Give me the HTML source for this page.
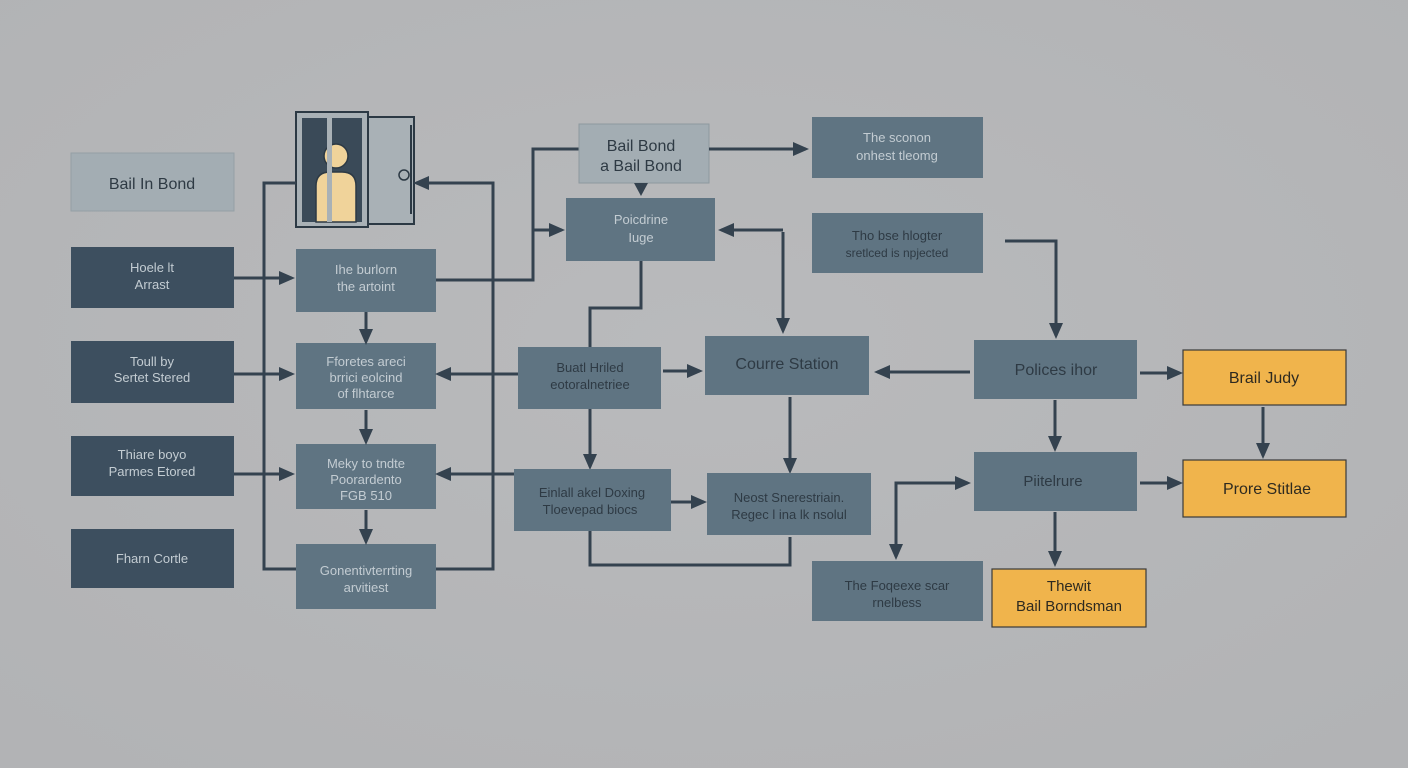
<!DOCTYPE html>
<html><head><meta charset="utf-8"><style>
html,body{margin:0;padding:0;background:#b5b6b8;}
svg{display:block}
text{font-family:"Liberation Sans",sans-serif;text-anchor:middle}
</style></head><body>
<svg width="1408" height="768" viewBox="0 0 1408 768" xmlns="http://www.w3.org/2000/svg">
<defs>
<radialGradient id="bg" cx="50%" cy="45%" r="70%"><stop offset="0" stop-color="#b9babc"/><stop offset="1" stop-color="#b2b3b5"/></radialGradient>
<marker id="a" markerWidth="8" markerHeight="8" refX="6" refY="4" orient="auto" markerUnits="userSpaceOnUse" viewBox="0 0 8 8"><path d="M0,0 L8,4 L0,8 z" fill="#34424f"/></marker>
</defs>
<style>.l{stroke:#34424f;stroke-width:3;fill:none}.d{fill:#3d4f5f}.m{fill:#5f7482}.t1{fill:#c3ccd2;font-size:13px}.t2{fill:#2e3a44;font-size:16px}</style>
<rect width="1408" height="768" fill="url(#bg)"/>
<!-- markers via bigger arrow heads -->
<defs><marker id="h" markerWidth="16" markerHeight="16" refX="13" refY="8" orient="auto" markerUnits="userSpaceOnUse"><path d="M0,1 L16,8 L0,15 z" fill="#34424f"/></marker></defs>

<!-- left column -->
<rect x="71" y="153" width="163" height="58" fill="#a3adb3" stroke="#95a0a6"/>
<text x="152" y="189" class="t2">Bail In Bond</text>
<rect class="d" x="71" y="247" width="163" height="61"/>
<text x="152" y="272" class="t1">Hoele lt</text><text x="152" y="289" class="t1">Arrast</text>
<rect class="d" x="71" y="341" width="163" height="62"/>
<text x="152" y="366" class="t1">Toull by</text><text x="152" y="382" class="t1">Sertet Stered</text>
<rect class="d" x="71" y="436" width="163" height="60"/>
<text x="152" y="459" class="t1">Thiare boyo</text><text x="152" y="476" class="t1">Parmes Etored</text>
<rect class="d" x="71" y="529" width="163" height="59"/>
<text x="152" y="563" class="t1">Fharn Cortle</text>

<!-- jail icon -->
<rect x="368" y="117" width="46" height="107" fill="#a9b1b6" stroke="#2c3944" stroke-width="2"/>
<line x1="411" y1="125" x2="411" y2="214" stroke="#2c3944" stroke-width="2"/>
<circle cx="404" cy="175" r="5" fill="none" stroke="#2c3944" stroke-width="1.5"/>
<rect x="296" y="112" width="72" height="115" fill="#a9b1b6" stroke="#2c3944" stroke-width="2"/>
<rect x="302" y="118" width="60" height="104" fill="#3a4a58"/>
<circle cx="336" cy="156" r="12" fill="#f0d39a" stroke="#2c3944" stroke-width="1.5"/>
<path d="M316,222 L316,186 Q316,172 330,172 L342,172 Q356,172 356,186 L356,222 z" fill="#f0d39a" stroke="#2c3944" stroke-width="1.5"/>
<rect x="327" y="118" width="5" height="104" fill="#a9b1b6"/>

<!-- mid column -->
<rect class="m" x="296" y="249" width="140" height="63"/>
<text x="366" y="274" class="t1">Ihe burlorn</text><text x="366" y="291" class="t1">the artoint</text>
<rect class="m" x="296" y="343" width="140" height="66"/>
<text x="366" y="366" class="t1">Fforetes areci</text><text x="366" y="382" class="t1">brrici eolcind</text><text x="366" y="398" class="t1">of flhtarce</text>
<rect class="m" x="296" y="444" width="140" height="65"/>
<text x="366" y="468" class="t1">Meky to tndte</text><text x="366" y="484" class="t1">Poorardento</text><text x="366" y="500" class="t1">FGB 510</text>
<rect class="m" x="296" y="544" width="140" height="65"/>
<text x="366" y="575" class="t1">Gonentivterrting</text><text x="366" y="592" class="t1">arvitiest</text>

<!-- left connectors -->
<path class="l" d="M296,183 H264 V569 H296"/>
<path class="l" d="M436,569 H493 V183 H416" marker-end="url(#h)"/>
<path class="l" d="M234,278 H292" marker-end="url(#h)"/>
<path class="l" d="M234,374 H292" marker-end="url(#h)"/>
<path class="l" d="M234,474 H292" marker-end="url(#h)"/>
<path class="l" d="M366,312 V342" marker-end="url(#h)"/>
<path class="l" d="M366,410 V442" marker-end="url(#h)"/>
<path class="l" d="M366,510 V542" marker-end="url(#h)"/>
<path class="l" d="M518,374 H438" marker-end="url(#h)"/>
<path class="l" d="M514,474 H438" marker-end="url(#h)"/>
<path class="l" d="M436,280 H533 V149 H579"/>
<path class="l" d="M533,230 H562" marker-end="url(#h)"/>

<!-- centre -->
<rect x="579" y="124" width="130" height="59" fill="#a3adb3" stroke="#8e999f"/>
<text x="641" y="151" class="t2">Bail Bond</text><text x="641" y="171" class="t2">a Bail Bond</text>
<path d="M634,183 L648,183 L641,196 z" fill="#34424f"/>
<rect class="m" x="566" y="198" width="149" height="63"/>
<text x="641" y="224" class="t1">Poicdrine</text><text x="641" y="242" class="t1">Iuge</text>
<path class="l" d="M709,149 H806" marker-end="url(#h)"/>
<rect class="m" x="812" y="117" width="171" height="61"/>
<text x="897" y="142" class="t1">The sconon</text><text x="897" y="160" class="t1">onhest tleomg</text>
<rect class="m" x="812" y="213" width="171" height="60"/>
<text x="897" y="240" class="t1" fill="#2e3a44" style="fill:#2e3a44">Tho bse hlogter</text><text x="897" y="257" class="t1" style="fill:#2e3a44;font-size:12px">sretlced is npjected</text>
<path class="l" d="M641,261 V308 H590 V347"/>
<rect class="m" x="518" y="347" width="143" height="62"/>
<text x="590" y="372" class="t1" style="fill:#2e3a44">Buatl Hriled</text><text x="590" y="389" class="t1" style="fill:#2e3a44">eotoralnetriee</text>
<path class="l" d="M663,371 H700" marker-end="url(#h)"/>
<rect class="m" x="705" y="336" width="164" height="59"/>
<text x="787" y="369" style="fill:#2e3a44;font-size:16px">Courre Station</text>
<path class="l" d="M783,232 V331" marker-end="url(#h)"/>
<path class="l" d="M783,230 H721" marker-end="url(#h)"/>
<path class="l" d="M790,397 V471" marker-end="url(#h)"/>
<path class="l" d="M970,372 H877" marker-end="url(#h)"/>
<path class="l" d="M590,409 V467" marker-end="url(#h)"/>
<rect class="m" x="514" y="469" width="157" height="62"/>
<text x="592" y="497" class="t1" style="fill:#2e3a44">Einlall akel Doxing</text><text x="590" y="514" class="t1" style="fill:#2e3a44">Tloevepad biocs</text>
<path class="l" d="M671,502 H704" marker-end="url(#h)"/>
<rect class="m" x="707" y="473" width="164" height="62"/>
<text x="789" y="502" class="t1" style="fill:#2e3a44">Neost Snerestriain.</text><text x="789" y="519" class="t1" style="fill:#2e3a44">Regec l ina lk nsolul</text>
<path class="l" d="M590,531 V565 H790 V537"/>

<!-- right -->
<path class="l" d="M1005,241 H1056 V336" marker-end="url(#h)"/>
<rect class="m" x="974" y="340" width="163" height="59"/>
<text x="1056" y="375" style="fill:#2e3a44;font-size:16px">Polices ihor</text>
<path class="l" d="M1140,373 H1180" marker-end="url(#h)"/>
<rect x="1183" y="350" width="163" height="55" fill="#f0b44c" stroke="#3a3a3a" stroke-width="1.2"/>
<text x="1264" y="383" style="fill:#2e2a20;font-size:16px">Brail Judy</text>
<path class="l" d="M1263,407 V456" marker-end="url(#h)"/>
<rect x="1183" y="460" width="163" height="57" fill="#f0b44c" stroke="#3a3a3a" stroke-width="1.2"/>
<text x="1267" y="494" style="fill:#2e2a20;font-size:16px">Prore Stitlae</text>
<path class="l" d="M1055,400 V449" marker-end="url(#h)"/>
<rect class="m" x="974" y="452" width="163" height="59"/>
<text x="1053" y="486" style="fill:#2e3a44;font-size:15px">Piitelrure</text>
<path class="l" d="M1140,483 H1180" marker-end="url(#h)"/>
<path class="l" d="M967,483 H896 V557" marker-end="url(#h)"/>
<path class="l" d="M967,483 H968" marker-end="url(#h)"/>
<path class="l" d="M1055,512 V564" marker-end="url(#h)"/>
<rect class="m" x="812" y="561" width="171" height="60"/>
<text x="897" y="590" class="t1" style="fill:#2e3a44">The Foqeexe scar</text><text x="897" y="607" class="t1" style="fill:#2e3a44">rnelbess</text>
<rect x="992" y="569" width="154" height="58" fill="#f0b44c" stroke="#3a3a3a" stroke-width="1.2"/>
<text x="1069" y="591" style="fill:#2e2a20;font-size:15px">Thewit</text><text x="1069" y="611" style="fill:#2e2a20;font-size:15px">Bail Borndsman</text>
</svg>
</body></html>
